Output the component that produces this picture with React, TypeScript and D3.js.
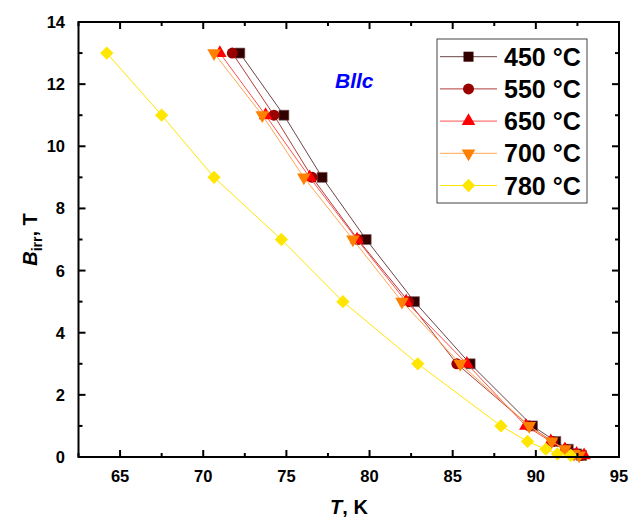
import React from "react";
import * as d3 from "d3";

const fields = [13, 11, 9, 7, 5, 3, 1, 0.5, 0.25, 0.1, 0.05];
const t450 = [72.2, 74.85, 77.15, 79.8, 82.7, 86.05, 89.8, 91.2, 91.95, 92.45, 92.75];
const t550 = [71.75, 74.25, 76.55, 79.3, 82.35, 85.25, 89.6, 91.0, 91.8, 92.35, 92.7];
const t650 = [71.0, 73.75, 76.4, 79.25, 82.2, 85.85, 89.4, 90.9, 91.75, 92.45, 92.9];
const t700 = [70.65, 73.55, 76.05, 79.0, 81.95, 85.45, 89.6, 90.95, 91.75, 92.3, 92.6];
const t780 = [64.2, 67.5, 70.65, 74.7, 78.4, 82.9, 87.9, 89.5, 90.6, 91.3, 92.1];

const seriesNames = ["450 °C", "550 °C", "650 °C", "700 °C", "780 °C"];
const seriesT = [t450, t550, t650, t700, t780];
const markerColors = ["#330000", "#990000", "#ff0000", "#ff8000", "#ffe600"];
const lineColors = ["#6b4545", "#b03c3c", "#ff5050", "#ffa850", "#ffe600"];
const markerKinds = ["square", "circle", "triangle", "down", "diamond"];

const xTicks = [65, 70, 75, 80, 85, 90, 95];
const yTicks = [0, 2, 4, 6, 8, 10, 12, 14];

const W = 632, H = 527;
const L = 78.5, R = 619, T = 22, B = 457;
const FONT = "'Liberation Sans', Arial, sans-serif";

function markerPath(kind: string): { d: string; rot: number } {
  if (kind === "square") return { d: d3.symbol().type(d3.symbolSquare).size(100)() as string, rot: 0 };
  if (kind === "circle") return { d: d3.symbol().type(d3.symbolCircle).size(95)() as string, rot: 0 };
  if (kind === "triangle") return { d: d3.symbol().type(d3.symbolTriangle).size(80)() as string, rot: 0 };
  if (kind === "down") return { d: d3.symbol().type(d3.symbolTriangle).size(80)() as string, rot: 180 };
  return { d: d3.symbol().type(d3.symbolSquare).size(88)() as string, rot: 45 };
}

export default function App() {
  const x = d3.scaleLinear().domain([62.5, 95]).range([L, R]);
  const y = d3.scaleLinear().domain([0, 14]).range([B, T]);
  const line = d3.line<[number, number]>().x(d => x(d[0])).y(d => y(d[1]));
  const xMinor = d3.range(62.5, 95.01, 2.5).filter(v => !xTicks.includes(v));
  const yMinor = d3.range(1, 14, 2);

  return (
    <svg width={W} height={H} style={{ position: "absolute", left: 0, top: 0, background: "#fff" }} fontFamily={FONT}>
      {/* series */}
      {seriesT.map((ts, i) => {
        const pts: [number, number][] = ts.map((t, j) => [t, fields[j]]);
        const m = markerPath(markerKinds[i]);
        return (
          <g key={i}>
            <path d={line(pts) as string} fill="none" stroke={lineColors[i]} strokeWidth={1} />
            {pts.map((p, j) => (
              <path key={j} d={m.d} transform={`translate(${x(p[0])},${y(p[1])}) rotate(${m.rot})`} fill={markerColors[i]} stroke={i === 0 ? "#7a5a5a" : "none"} strokeWidth={0.6} />
            ))}
          </g>
        );
      })}
      {/* frame */}
      <rect x={L} y={T} width={R - L} height={B - T} fill="none" stroke="#000" strokeWidth={2} />
      {xTicks.map(v => (
        <g key={"xt" + v}>
          <line x1={x(v)} x2={x(v)} y1={B} y2={B - 7} stroke="#000" strokeWidth={2} />
          <line x1={x(v)} x2={x(v)} y1={T} y2={T + 7} stroke="#000" strokeWidth={2} />
          <text x={x(v)} y={482} textAnchor="middle" fontSize={16.5} fontWeight="bold">{v}</text>
        </g>
      ))}
      {xMinor.map(v => (
        <g key={"xm" + v}>
          <line x1={x(v)} x2={x(v)} y1={B} y2={B - 4} stroke="#000" strokeWidth={2} />
          <line x1={x(v)} x2={x(v)} y1={T} y2={T + 4} stroke="#000" strokeWidth={2} />
        </g>
      ))}
      {yTicks.map(v => (
        <g key={"yt" + v}>
          <line x1={L} x2={L + 7} y1={y(v)} y2={y(v)} stroke="#000" strokeWidth={2} />
          <line x1={R} x2={R - 7} y1={y(v)} y2={y(v)} stroke="#000" strokeWidth={2} />
          <text x={65} y={y(v) + 6} textAnchor="end" fontSize={16.5} fontWeight="bold">{v}</text>
        </g>
      ))}
      {yMinor.map(v => (
        <g key={"ym" + v}>
          <line x1={L} x2={L + 4} y1={y(v)} y2={y(v)} stroke="#000" strokeWidth={2} />
          <line x1={R} x2={R - 4} y1={y(v)} y2={y(v)} stroke="#000" strokeWidth={2} />
        </g>
      ))}
      {/* axis titles */}
      <text x={349} y={514} textAnchor="middle" fontSize={20} fontWeight="bold">
        <tspan fontStyle="italic">T</tspan>, K
      </text>
      <text transform={`translate(37,${(T + B) / 2}) rotate(-90)`} textAnchor="middle" fontSize={20} fontWeight="bold">
        <tspan fontStyle="italic">B</tspan>
        <tspan fontSize={14} dy={5}>irr</tspan>
        <tspan dy={-5}>, T</tspan>
      </text>
      {/* annotation */}
      <text x={335} y={88} fontSize={21} fontWeight="bold" fontStyle="italic" fill="#0000ff">Bllc</text>
      {/* legend */}
      <rect x={437} y={39} width={150} height={164} fill="#fff" stroke="#444" strokeWidth={1} />
      {seriesNames.map((name, i) => {
        const cy = 56.7 + i * 32.2;
        const m = markerPath(markerKinds[i]);
        return (
          <g key={"lg" + i}>
            <line x1={440} x2={497} y1={cy} y2={cy} stroke={lineColors[i]} strokeWidth={1} />
            <path d={m.d} transform={`translate(468.5,${cy}) rotate(${m.rot})`} fill={markerColors[i]} />
            <text x={504} y={cy + 9} fontSize={25} fontWeight="bold">{name}</text>
          </g>
        );
      })}
    </svg>
  );
}
